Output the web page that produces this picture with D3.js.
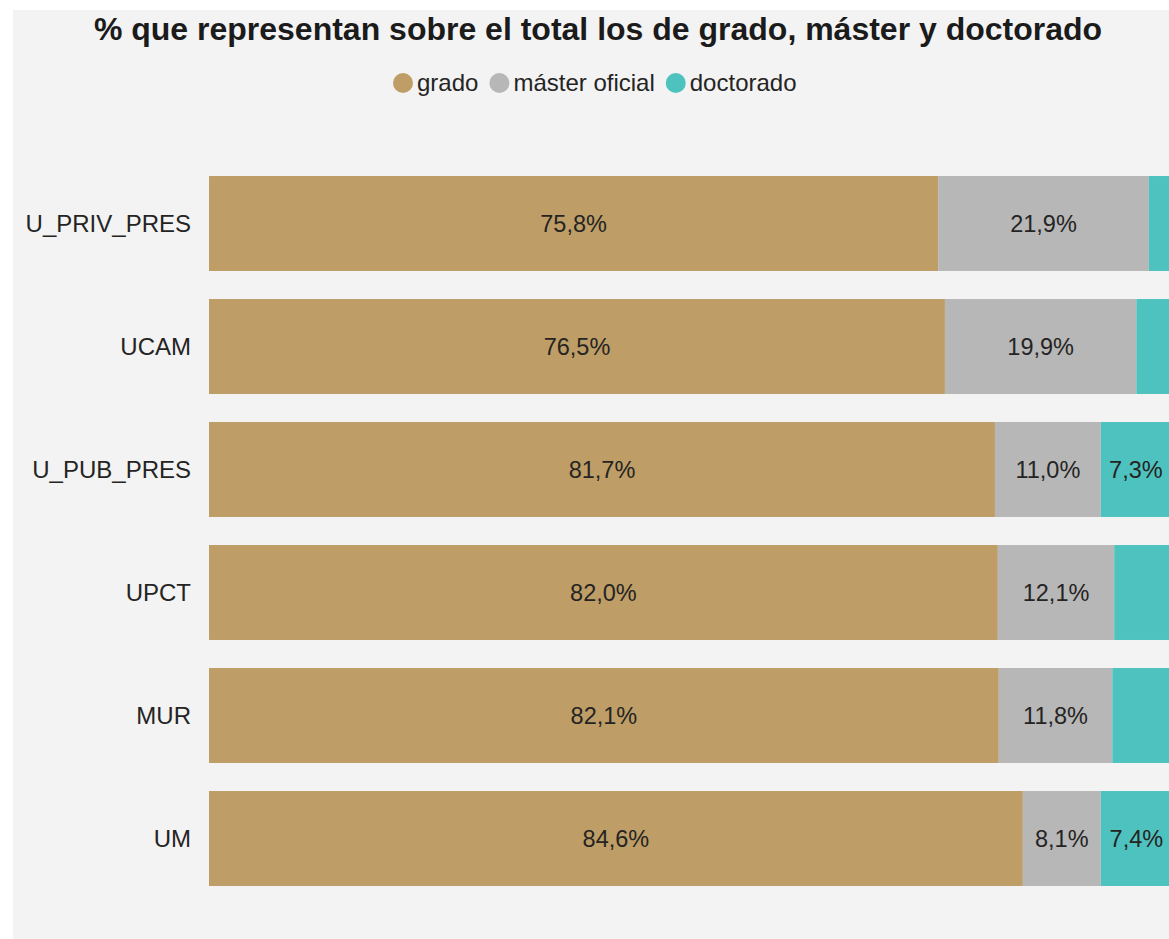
<!DOCTYPE html>
<html>

<head>
    <meta charset='utf-8'>
    <title>Grado, máster y doctorado</title>
    <script type='text/javascript' src='https://cdn.jsdelivr.net/npm/d3@7'></script>
    <style>
        body { margin: 0; background: #fff; overflow: hidden; }
        text { font-family: 'Liberation Sans', Arial, sans-serif; }
    </style>
</head>

<body>
    <svg width='1169' height='939'></svg>
    <script type='text/javascript'>

        const universidades = ['U_PRIV_PRES', 'UCAM', 'U_PUB_PRES', 'UPCT', 'MUR', 'UM']
        const series = ['grado', 'máster oficial', 'doctorado']
        const grado = [75.8, 76.5, 81.7, 82.0, 82.1, 84.6]
        const master = [21.9, 19.9, 11.0, 12.1, 11.8, 8.1]
        const doctorado = [2.3, 3.6, 7.3, 5.9, 6.1, 7.4]
        const colores = ['#BE9E66', '#B7B7B7', '#4EC2BE']

        const svg = d3.select('svg')

        // panel de fondo
        svg.append('rect')
            .attr('x', 13).attr('y', 10)
            .attr('width', 1160).attr('height', 929)
            .attr('fill', '#F3F3F3')

        svg.append('text')
            .attr('x', 598).attr('y', 40)
            .attr('text-anchor', 'middle')
            .attr('font-size', 32)
            .attr('font-weight', 'bold')
            .attr('fill', '#1b1b1b')
            .text('% que representan sobre el total los de grado, máster y doctorado')

        // leyenda: cada elemento sigue al anterior
        const legend = svg.append('g')
        let lx = 403
        series.forEach((s, i) => {
            legend.append('circle')
                .attr('cx', lx).attr('cy', 83).attr('r', 10)
                .attr('fill', colores[i])
            const t = legend.append('text')
                .attr('x', lx + 14).attr('y', 91)
                .attr('font-size', 24)
                .attr('fill', '#252423')
                .text(s)
            lx += 14 + t.node().getComputedTextLength() + 21
        })

        const filas = universidades.map((u, i) => ({
            uni: u, 'grado': grado[i], 'máster oficial': master[i], 'doctorado': doctorado[i]
        }))

        const stack = d3.stack().keys(series)
        const stacked = stack(filas)

        const x = d3.scaleLinear().domain([0, 100]).range([209, 1171])
        const y = d3.scaleBand().domain(universidades)
            .range([162, 900])
            .paddingInner(0.228)
            .paddingOuter(0.114)

        const fmt = v => d3.format('.1f')(v).replace('.', ',') + '%'

        const grupos = svg.selectAll('g.serie')
            .data(stacked)
            .enter()
            .append('g')
            .attr('class', 'serie')
            .attr('fill', (d, i) => colores[i])

        grupos.selectAll('rect')
            .data(d => d)
            .enter()
            .append('rect')
            .attr('x', d => x(d[0]))
            .attr('y', d => y(d.data.uni))
            .attr('width', d => x(d[1]) - x(d[0]))
            .attr('height', y.bandwidth())

        grupos.selectAll('text')
            .data(d => d.filter(p => x(p[1]) - x(p[0]) >= 65))
            .enter()
            .append('text')
            .attr('x', d => (x(d[0]) + x(d[1])) / 2)
            .attr('y', d => y(d.data.uni) + y.bandwidth() / 2 + 8)
            .attr('text-anchor', 'middle')
            .attr('font-size', 23.5)
            .attr('fill', '#252423')
            .text(d => fmt(d[1] - d[0]))

        // etiquetas del eje
        svg.append('g')
            .selectAll('text')
            .data(universidades)
            .enter()
            .append('text')
            .attr('x', 191)
            .attr('y', d => y(d) + y.bandwidth() / 2 + 8)
            .attr('text-anchor', 'end')
            .attr('font-size', 24)
            .attr('fill', '#252423')
            .text(d => d)
    </script>
</body>

</html>
